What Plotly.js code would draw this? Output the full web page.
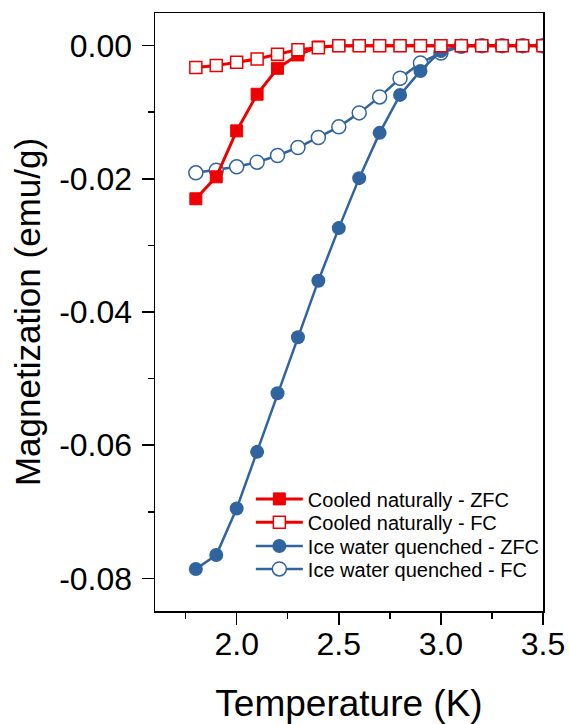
<!DOCTYPE html>
<html>
<head>
<meta charset="utf-8">
<script src="https://cdn.plot.ly/plotly-3.0.1.min.js"></script>
<style>html,body{margin:0;padding:0;background:#fff;}#chart{width:569px;height:724px;}</style>
</head>
<body>
<div id="chart"></div>
<script>
const temperature = [1.8, 1.9, 2.0, 2.1, 2.2, 2.3, 2.4, 2.5, 2.6, 2.7, 2.8, 2.9, 3.0, 3.1, 3.2, 3.3, 3.4, 3.5];
const naturalZFC = [-0.0230, -0.0197, -0.0128, -0.0073, -0.0034, -0.0014, -0.0002, 0, 0, 0, 0, 0, 0, 0, 0, 0, 0, 0];
const naturalFC  = [-0.0033, -0.0030, -0.0025, -0.0020, -0.0013, -0.0006, -0.0003, 0, 0, 0, 0, 0, 0, 0, 0, 0, 0, 0];
const quenchZFC  = [-0.0786, -0.0765, -0.0695, -0.0610, -0.0522, -0.0438, -0.0353, -0.0274, -0.0199, -0.0131, -0.0074, -0.0038, -0.0008, 0, 0, 0, 0, 0];
const quenchFC   = [-0.0191, -0.0187, -0.0182, -0.0175, -0.0165, -0.0153, -0.0138, -0.0122, -0.0101, -0.0077, -0.0049, -0.0026, -0.0011, -0.0001, 0, 0, 0, 0];
const names = ["Cooled naturally - ZFC", "Cooled naturally - FC", "Ice water quenched - ZFC", "Ice water quenched - FC"];
const xTicks = [2.0, 2.5, 3.0, 3.5];
const yTicks = [0, -0.02, -0.04, -0.06, -0.08];

const RED = "#ee0000", BLUE = "#30649f";
const FONT = "Liberation Sans, Arial, sans-serif";
const traces = [
  {x: temperature, y: quenchFC, name: names[3], legend: "legend4", mode: "lines+markers",
   line: {color: BLUE, width: 2.5}, marker: {symbol: "circle", size: 14, color: "#ffffff", line: {color: BLUE, width: 1.5}}},
  {x: temperature, y: quenchZFC, name: names[2], legend: "legend3", mode: "lines+markers",
   line: {color: BLUE, width: 2.5}, marker: {symbol: "circle", size: 14, color: BLUE, line: {color: BLUE, width: 0}}},
  {x: temperature, y: naturalZFC, name: names[0], legend: "legend", mode: "lines+markers",
   line: {color: RED, width: 3}, marker: {symbol: "square", size: 12, color: RED, line: {color: RED, width: 1}}},
  {x: temperature, y: naturalFC, name: names[1], legend: "legend2", mode: "lines+markers",
   line: {color: RED, width: 3}, marker: {symbol: "square", size: 12, color: "#ffffff", line: {color: RED, width: 1.5}}}
];

const axisCommon = {
  showline: true, linecolor: "#000", linewidth: 1.5, mirror: true,
  ticks: "outside", ticklen: 12, tickwidth: 1.5, tickcolor: "#000",
  showgrid: false, zeroline: false,
  tickfont: {family: FONT, size: 32, color: "#000"},
  minor: {ticks: "outside", ticklen: 6, tickwidth: 1.5, tickcolor: "#000", showgrid: false}
};

function leg(y) {
  return {x: 0.247, y: y, xanchor: "left", yanchor: "top", itemwidth: 47,
    bgcolor: "rgba(0,0,0,0)", borderwidth: 0,
    font: {family: FONT, size: 20, color: "#000"}};
}

const layout = {
  width: 569, height: 724,
  margin: {l: 155, r: 26, t: 13, b: 113},
  paper_bgcolor: "#fff", plot_bgcolor: "#fff",
  showlegend: true,
  legend: leg(0.2201), legend2: leg(0.1810), legend3: leg(0.1414), legend4: leg(0.1030),
  xaxis: Object.assign({}, axisCommon, {
    range: [1.6, 3.5], tickvals: xTicks, ticktext: xTicks.map(v => v.toFixed(1)),
    ticklabelstandoff: -8,
    minor: Object.assign({}, axisCommon.minor, {dtick: 0.25, tick0: 1.75}),
    title: {text: "Temperature (K)", font: {family: FONT, size: 37, color: "#000"}, standoff: 30}
  }),
  yaxis: Object.assign({}, axisCommon, {
    range: [-0.0849, 0.0049], tickvals: yTicks, ticktext: yTicks.map(v => v.toFixed(2)),
    ticklabelstandoff: 3,
    minor: Object.assign({}, axisCommon.minor, {dtick: 0.01, tick0: 0}),
    title: {text: "Magnetization (emu/g)", font: {family: FONT, size: 35, color: "#000"}, standoff: 8}
  })
};

Plotly.newPlot("chart", traces, layout, {displayModeBar: false, staticPlot: true});
</script>
</body>
</html>
